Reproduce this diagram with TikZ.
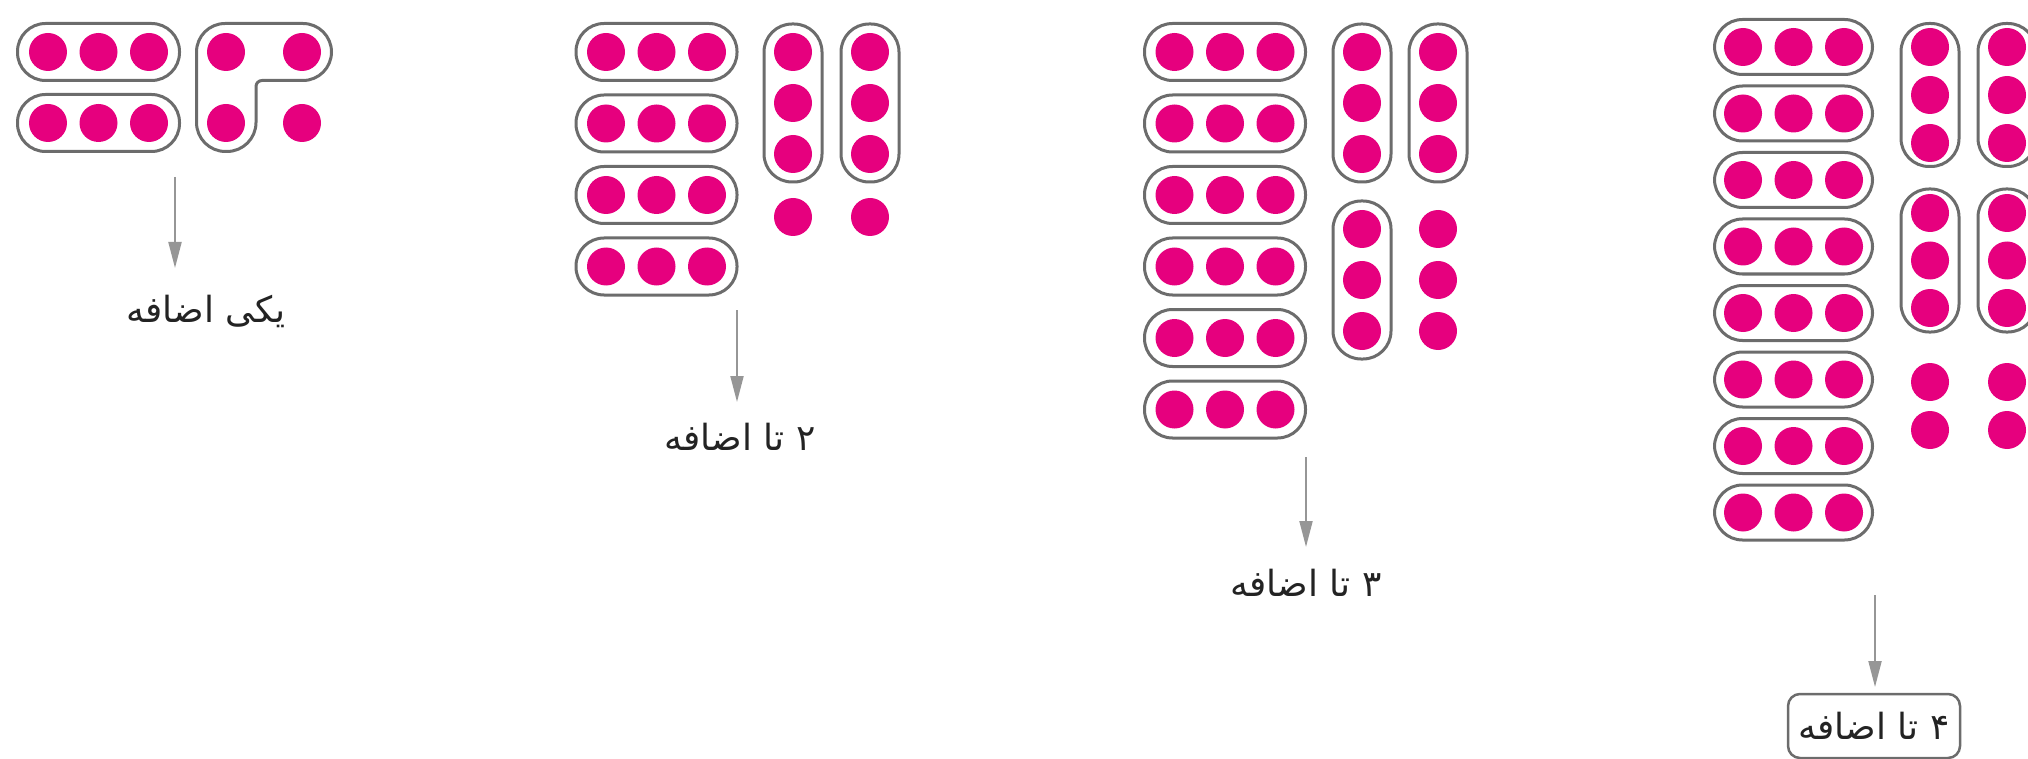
\documentclass[tikz,border=0pt]{standalone}
\usepackage{fontspec}
\newfontfamily\arabicfont[Script=Arabic]{DejaVu Sans}
\TeXXeTstate=1
\usetikzlibrary{arrows.meta}
\definecolor{dotpink}{RGB}{230,0,126}
\definecolor{pillgray}{RGB}{108,108,108}
\definecolor{arrowgray}{RGB}{150,150,150}
\definecolor{txtgray}{RGB}{35,35,35}
\newcommand\hpill[4]{% x, y, half width, half height
  \draw[pill] ({#1-#3},{#2-#4}) rectangle ({#1+#3},{#2+#4});
  \foreach \dx in {-50.5,0,50.5} \fill[dotc] ({#1+\dx},#2) circle[radius=19];
}
\newcommand\vpill[4]{% x, y center, spacing, half height
  \draw[pill] (#1-29,{#2-#4}) rectangle (#1+29,{#2+#4});
  \foreach \dy in {-1,0,1} \fill[dotc] (#1,{#2+(\dy)*#3}) circle[radius=19];
}
\newcommand\pdot[2]{\fill[dotc] (#1,#2) circle[radius=19];}
\begin{document}
\begin{tikzpicture}[x=1pt,y=-1pt,
  dotc/.style={fill=dotpink},
  pill/.style={draw=pillgray, line width=3pt, rounded corners=28pt},
  arr/.style={draw=arrowgray, line width=2pt, -{Triangle[length=26pt,width=13pt]}},
  lbl/.style={font=\fontsize{36}{42}\selectfont\arabicfont, text=txtgray, inner sep=0pt},
  lblbox/.style={lbl, draw=pillgray, line width=2.5pt, rounded corners=12pt, minimum width=172pt, minimum height=64pt}
]
\useasboundingbox (0,0) rectangle (2028,759);
\clip (0,0) rectangle (2028,759);

% ---------- panel 1 ----------
\hpill{98.5}{52}{81}{28.5}
\hpill{98.5}{123}{81}{28.5}
\draw[pill, line cap=round] (196.5,100) [rounded corners=28.5pt] -- (196.5,23.5) -- (331.5,23.5) -- (331.5,80.5) [rounded corners=6pt] -- (256,80.5) [rounded corners=29pt] -- (256,151.5) -- (196.5,151.5) [sharp corners] -- (196.5,100);
\pdot{226}{52}\pdot{302}{52}\pdot{226}{123}\pdot{302}{123}
\coordinate (s1) at (175,177);
\coordinate (e1) at (175,268);
\draw[arr] (s1) -- (e1);
\node[lbl] (l1) at (206,311) {\beginR یکی اضافه\endR};

% ---------- panel 2 ----------
\foreach \y in {52,123.5,195,266.5} {\hpill{656.5}{\y}{80.5}{28.5}}
\vpill{793}{103}{51}{79}
\vpill{870}{103}{51}{79}
\pdot{793}{217}\pdot{870}{217}
\coordinate (s2) at (737,310);
\coordinate (e2) at (737,402);
\draw[arr] (s2) -- (e2);
\node[lbl] (l2) at (740,437) {\beginR ۲ تا اضافه\endR};

% ---------- panel 3 ----------
\foreach \y in {52,123.5,195,266.5,338,409.5} {\hpill{1225}{\y}{80.5}{28.5}}
\vpill{1362}{103}{51}{79}
\vpill{1438}{103}{51}{79}
\vpill{1362}{280}{51}{79}
\pdot{1438}{229}\pdot{1438}{280}\pdot{1438}{331}
\coordinate (s3) at (1306,457);
\coordinate (e3) at (1306,547);
\draw[arr] (s3) -- (e3);
\node[lbl] (l3) at (1306,583) {\beginR ۳ تا اضافه\endR};

% ---------- panel 4 ----------
\foreach \k in {0,...,7} {\hpill{1793.5}{47+66.5*\k}{79}{27.5}}
\vpill{1930}{95}{48}{71.5}
\vpill{2007}{95}{48}{71.5}
\vpill{1930}{260.5}{47.5}{71.5}
\vpill{2007}{260.5}{47.5}{71.5}
\pdot{1930}{382}\pdot{2007}{382}\pdot{1930}{430}\pdot{2007}{430}
\coordinate (s4) at (1875,595);
\coordinate (e4) at (1875,687);
\draw[arr] (s4) -- (e4);
\node[lblbox] (l4) at (1874,726) {\beginR ۴ تا اضافه\endR};
\end{tikzpicture}
\end{document}
